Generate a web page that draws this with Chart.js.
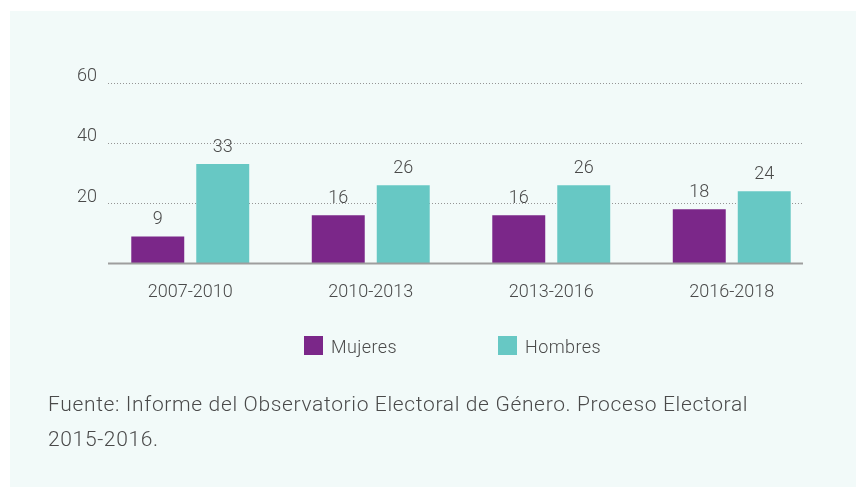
<!DOCTYPE html>
<html><head><meta charset="utf-8">
<script src="https://cdn.jsdelivr.net/npm/chart.js@4.4.0/dist/chart.umd.min.js"></script>
<style>
html,body{margin:0;padding:0;width:856px;height:487px;overflow:hidden;background:#fff;font-family:Roboto,sans-serif;}
#panel{position:absolute;left:10px;top:11px;right:0;bottom:0;background:#f2faf9;}
#c{position:absolute;left:0;top:0;}
#legend{position:absolute;left:304px;top:337px;display:flex;gap:101px;font-size:18px;font-weight:300;color:#4a4a4a;letter-spacing:0.4px;}
.item{display:flex;align-items:center;height:19px;}
.box{width:19px;height:19px;margin-right:8px;margin-top:-2px;}
#note{position:absolute;left:48px;top:387px;font-size:21px;line-height:35px;font-weight:300;color:#4a4a4a;white-space:nowrap;letter-spacing:0.65px;}
</style></head><body>
<div id="panel"></div>
<canvas id="c" width="856" height="487"></canvas>
<div id="legend"></div>
<div id="note">Fuente: Informe del Observatorio Electoral de Género. Proceso Electoral<br>2015-2016.</div>
<script>
const categories = ['2007-2010', '2010-2013', '2013-2016', '2016-2018'];
const mujeres = [9, 16, 16, 18];
const hombres = [33, 26, 26, 24];
const yTicks = [0, 20, 40, 60];
const seriesNames = ['Mujeres', 'Hombres'];
const seriesColors = ['#7b2789', '#67c8c4'];

const TEXT = '#4a4a4a';
const FONT = 'Roboto';

const gridPlugin = {
  id: 'customGrid',
  beforeDatasetsDraw(chart) {
    const {ctx, chartArea, scales: {y}} = chart;
    const x0 = chartArea.left + 8, x1 = chartArea.right - 19;
    ctx.save();
    ctx.strokeStyle = '#959595';
    ctx.lineWidth = 1;
    ctx.setLineDash([1, 2]);
    yTicks.forEach(v => {
      if (v === 0) return;
      const py = Math.round(y.getPixelForValue(v)) + 0.5;
      ctx.beginPath(); ctx.moveTo(x0, py); ctx.lineTo(x1, py); ctx.stroke();
    });
    ctx.restore();
  },
  afterDatasetsDraw(chart) {
    const {ctx, chartArea, scales: {y}} = chart;
    const x0 = chartArea.left + 8, x1 = chartArea.right - 19;
    ctx.save();
    ctx.strokeStyle = '#9e9e9e';
    ctx.lineWidth = 2;
    const py = y.getPixelForValue(0);
    ctx.beginPath(); ctx.moveTo(x0, py); ctx.lineTo(x1, py); ctx.stroke();
    // value labels
    ctx.fillStyle = TEXT;
    ctx.font = '300 18px ' + FONT;
    ctx.textAlign = 'center';
    ctx.textBaseline = 'alphabetic';
    chart.data.datasets.forEach((ds, i) => {
      const meta = chart.getDatasetMeta(i);
      meta.data.forEach((el, j) => {
        ctx.fillText(String(ds.data[j]), el.x, el.y - 12);
      });
    });
    ctx.restore();
  }
};

const chart = new Chart(document.getElementById('c'), {
  type: 'bar',
  data: {
    labels: categories,
    datasets: [
      {label: seriesNames[0], data: mujeres, backgroundColor: seriesColors[0], categoryPercentage: 0.72, barPercentage: 0.815},
      {label: seriesNames[1], data: hombres, backgroundColor: seriesColors[1], categoryPercentage: 0.72, barPercentage: 0.815}
    ]
  },
  options: {
    responsive: false,
    animation: false,
    layout: {padding: {left: 0, right: 34, top: 82.7, bottom: 183.5}},
    plugins: {legend: {display: false}, tooltip: {enabled: false}},
    scales: {
      x: {
        grid: {display: false, drawTicks: false},
        border: {display: false},
        ticks: {color: TEXT, font: {family: FONT, size: 18, weight: 300}, padding: 18},
        afterFit: s => { s.height = 40; }
      },
      y: {
        min: 0, max: 60,
        afterBuildTicks: s => { s.ticks = yTicks.map(v => ({value: v})); },
        grid: {display: false, drawTicks: false},
        border: {display: false},
        ticks: {color: TEXT, font: {family: FONT, size: 18, weight: 300}, padding: 3, labelOffset: -6,
          callback: v => v === 0 ? '' : v},
        afterFit: s => { s.width = 100; }
      }
    }
  },
  plugins: [gridPlugin]
});

const legend = document.getElementById('legend');
chart.data.datasets.forEach(ds => {
  const item = document.createElement('div');
  item.className = 'item';
  const box = document.createElement('span');
  box.className = 'box';
  box.style.background = ds.backgroundColor;
  const t = document.createElement('span');
  t.textContent = ds.label;
  item.appendChild(box); item.appendChild(t);
  legend.appendChild(item);
});
</script>
</body></html>
